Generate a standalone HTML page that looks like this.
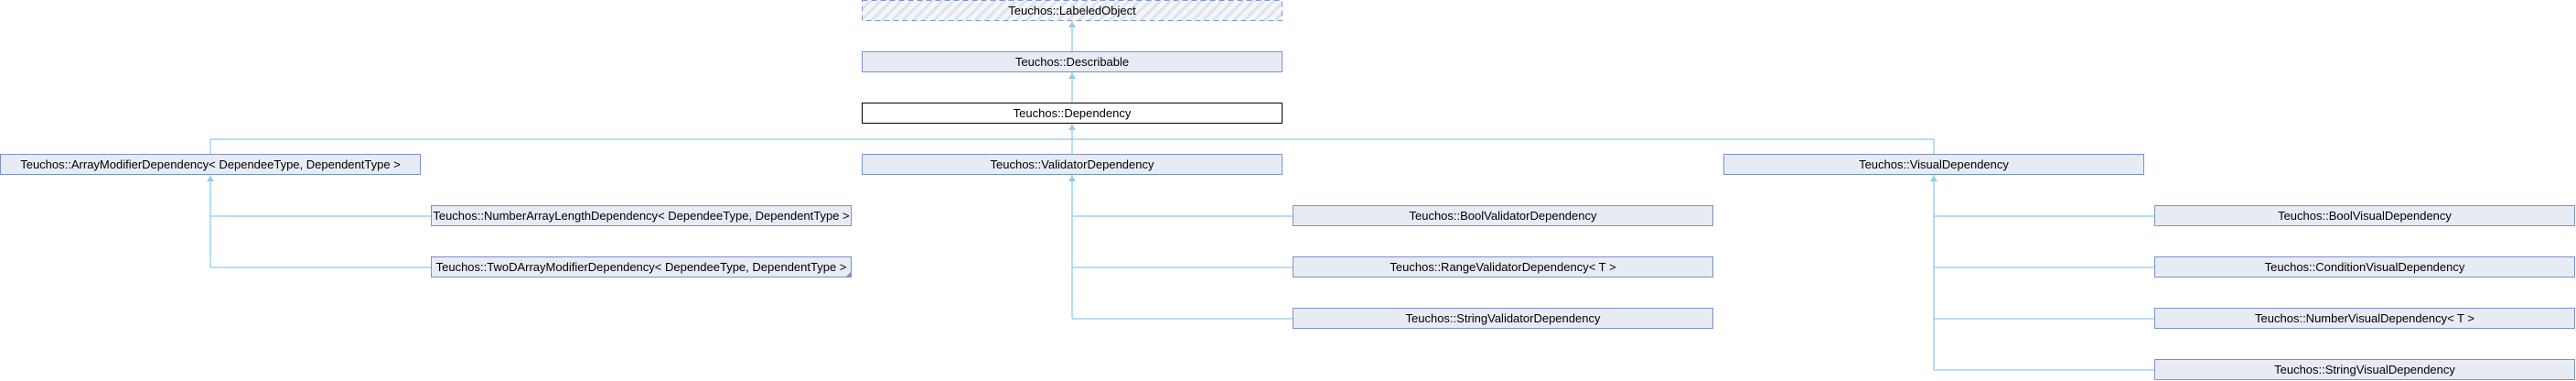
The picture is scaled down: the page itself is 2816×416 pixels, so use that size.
<!DOCTYPE html>
<html><head><meta charset="utf-8"><style>
html,body{margin:0;padding:0;background:#fff;width:2816px;height:416px;overflow:hidden}
svg text{font-family:"Liberation Sans",sans-serif;font-size:13px;fill:#000}
</style></head><body>
<svg width="2816" height="416" xmlns="http://www.w3.org/2000/svg">
<defs>
<pattern id="h" width="8" height="8" patternUnits="userSpaceOnUse" patternTransform="rotate(45)">
<rect width="8" height="8" fill="#f4f6fa"/><rect width="3" height="8" fill="#dde3ee"/>
</pattern>
</defs>
<g stroke="#8fcbea" stroke-width="1.3" fill="none">
<line x1="1172" y1="23" x2="1172" y2="56"/>
<line x1="1172" y1="79" x2="1172" y2="112"/>
<line x1="1172" y1="135" x2="1172" y2="168"/>
<line x1="230" y1="152" x2="2114" y2="152"/>
<line x1="230" y1="152" x2="230" y2="168"/>
<line x1="2114" y1="152" x2="2114" y2="168"/>
<line x1="230" y1="191" x2="230" y2="292"/>
<line x1="230" y1="236" x2="471" y2="236"/>
<line x1="230" y1="292" x2="471" y2="292"/>
<line x1="1172" y1="191" x2="1172" y2="348"/>
<line x1="1172" y1="236" x2="1413" y2="236"/>
<line x1="1172" y1="292" x2="1413" y2="292"/>
<line x1="1172" y1="348" x2="1413" y2="348"/>
<line x1="2114" y1="191" x2="2114" y2="404"/>
<line x1="2114" y1="236" x2="2355" y2="236"/>
<line x1="2114" y1="292" x2="2355" y2="292"/>
<line x1="2114" y1="348" x2="2355" y2="348"/>
<line x1="2114" y1="404" x2="2355" y2="404"/>
</g>
<g fill="#8fcbea">
<polygon points="1172,24 1168,30 1176,30"/>
<polygon points="1172,80 1168,86 1176,86"/>
<polygon points="1172,136 1168,142 1176,142"/>
<polygon points="230,192 226,198 234,198"/>
<polygon points="1172,192 1168,198 1176,198"/>
<polygon points="2114,192 2110,198 2118,198"/>
</g>
<rect x="942.5" y="0.5" width="459" height="22" fill="url(#h)" stroke="#7f96cc" stroke-dasharray="6,4"/>
<text x="1172" y="16" text-anchor="middle">Teuchos::LabeledObject</text>
<g fill="#e7ebf4" stroke="#7b91c9">
<rect x="942.5" y="56.5" width="459" height="22"/>
<rect x="942.5" y="112.5" width="459" height="22" fill="#fff" stroke="#000"/>
<rect x="0.5" y="168.5" width="459" height="22"/>
<rect x="942.5" y="168.5" width="459" height="22"/>
<rect x="1884.5" y="168.5" width="459" height="22"/>
<rect x="471.5" y="224.5" width="459" height="22"/>
<rect x="471.5" y="280.5" width="459" height="22"/>
<rect x="1413.5" y="224.5" width="459" height="22"/>
<rect x="1413.5" y="280.5" width="459" height="22"/>
<rect x="1413.5" y="336.5" width="459" height="22"/>
<rect x="2355.5" y="224.5" width="459" height="22"/>
<rect x="2355.5" y="280.5" width="459" height="22"/>
<rect x="2355.5" y="336.5" width="459" height="22"/>
<rect x="2355.5" y="392.5" width="459" height="22"/>
</g>
<polygon points="930,297 930,302 925,302" fill="#7b91c9"/>
<text x="1172" y="72" text-anchor="middle">Teuchos::Describable</text>
<text x="1172" y="128" text-anchor="middle">Teuchos::Dependency</text>
<text x="230" y="184" text-anchor="middle">Teuchos::ArrayModifierDependency&lt; DependeeType, DependentType &gt;</text>
<text x="1172" y="184" text-anchor="middle">Teuchos::ValidatorDependency</text>
<text x="2114" y="184" text-anchor="middle">Teuchos::VisualDependency</text>
<text x="701" y="240" text-anchor="middle">Teuchos::NumberArrayLengthDependency&lt; DependeeType, DependentType &gt;</text>
<text x="701" y="296" text-anchor="middle">Teuchos::TwoDArrayModifierDependency&lt; DependeeType, DependentType &gt;</text>
<text x="1643" y="240" text-anchor="middle">Teuchos::BoolValidatorDependency</text>
<text x="1643" y="296" text-anchor="middle">Teuchos::RangeValidatorDependency&lt; T &gt;</text>
<text x="1643" y="352" text-anchor="middle">Teuchos::StringValidatorDependency</text>
<text x="2585" y="240" text-anchor="middle">Teuchos::BoolVisualDependency</text>
<text x="2585" y="296" text-anchor="middle">Teuchos::ConditionVisualDependency</text>
<text x="2585" y="352" text-anchor="middle">Teuchos::NumberVisualDependency&lt; T &gt;</text>
<text x="2585" y="408" text-anchor="middle">Teuchos::StringVisualDependency</text>
</svg>
</body></html>
